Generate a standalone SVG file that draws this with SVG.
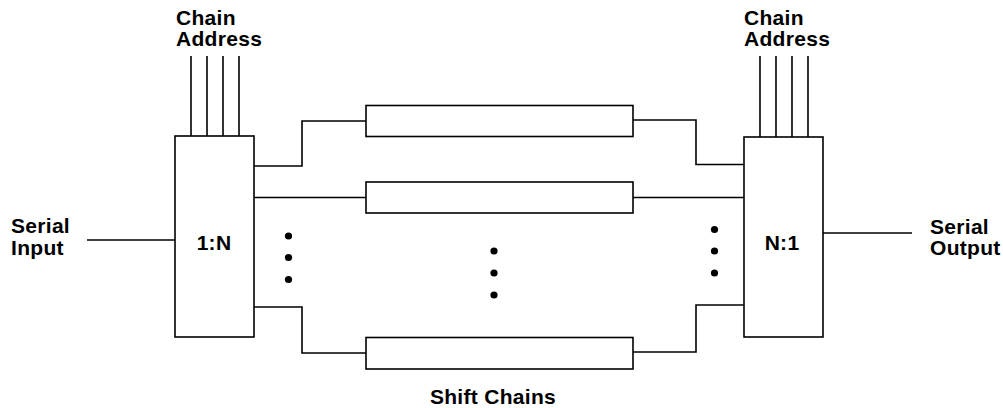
<svg xmlns="http://www.w3.org/2000/svg" width="1003" height="408" viewBox="0 0 1003 408">
  <style>
    .box { fill: #fff; stroke: #000; stroke-width: 1.6; }
    .wire { fill: none; stroke: #000; stroke-width: 1.6; }
    .lbl { font-family: "Liberation Sans", Arial, sans-serif; font-weight: bold; font-size: 21px; letter-spacing: 0.3px; fill: #000; }
    .dot { fill: #000; }
  </style>
  <rect width="1003" height="408" fill="#fff"/>

  <!-- connectors -->
  <g id="connectors" class="wire">
    <!-- chain address buses -->
    <path d="M191 56V136M207 56V136M223 56V136M239 56V136"/>
    <path d="M760 56V137M776 56V137M792 56V137M808 56V137"/>
    <!-- serial in / out -->
    <path d="M87 240H175"/>
    <path d="M823 233H912"/>
    <!-- demux to chains -->
    <path d="M254 166H302V121H366"/>
    <path d="M254 197.5H366"/>
    <path d="M254 307H302V353H366"/>
    <!-- chains to mux -->
    <path d="M633 120H696V164.5H744"/>
    <path d="M633 197.5H744"/>
    <path d="M633 352H696V305H744"/>
  </g>

  <g id="demux">
    <rect class="box" x="175" y="136" width="79" height="201"/>
    <text class="lbl" x="214" y="249.5" text-anchor="middle">1:N</text>
  </g>

  <g id="mux">
    <rect class="box" x="744" y="137" width="79" height="200"/>
    <text class="lbl" x="782" y="249.5" text-anchor="middle">N:1</text>
  </g>

  <g id="chain-1">
    <rect class="box" x="366" y="105.5" width="267" height="31"/>
  </g>
  <g id="chain-2">
    <rect class="box" x="366" y="182" width="267" height="31"/>
  </g>
  <g id="chain-n">
    <rect class="box" x="366" y="337.5" width="267" height="31.5"/>
  </g>

  <!-- ellipsis marks -->
  <g id="ellipsis">
    <circle class="dot" cx="288.5" cy="236" r="3.6"/>
    <circle class="dot" cx="288.5" cy="257.5" r="3.6"/>
    <circle class="dot" cx="288.5" cy="279.5" r="3.6"/>
    <circle class="dot" cx="494" cy="251" r="3.6"/>
    <circle class="dot" cx="494" cy="273" r="3.6"/>
    <circle class="dot" cx="494" cy="295" r="3.6"/>
    <circle class="dot" cx="714.5" cy="229.5" r="3.6"/>
    <circle class="dot" cx="714.5" cy="251" r="3.6"/>
    <circle class="dot" cx="714.5" cy="273" r="3.6"/>
  </g>

  <g id="labels">
    <text class="lbl" x="176" y="24.5">Chain</text>
    <text class="lbl" x="176" y="46">Address</text>
    <text class="lbl" x="744" y="24.5">Chain</text>
    <text class="lbl" x="744" y="46">Address</text>
    <text class="lbl" x="11" y="232.5">Serial</text>
    <text class="lbl" x="11" y="254.5">Input</text>
    <text class="lbl" x="930" y="233.5">Serial</text>
    <text class="lbl" x="930" y="255">Output</text>
    <text class="lbl" x="493" y="404" text-anchor="middle">Shift Chains</text>
  </g>
</svg>
